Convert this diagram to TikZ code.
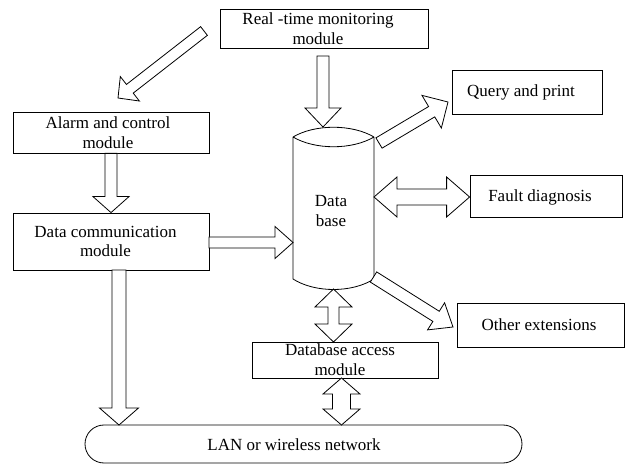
\documentclass[tikz,border=0pt]{standalone}
\usepackage{fontspec}
\setmainfont{Liberation Serif}
\usetikzlibrary{calc}

\tikzset{
  box/.style={draw, line width=0.8pt, inner sep=0pt},
  lbl/.style={align=center, inner sep=0pt, font=\fontsize{17}{19.5}\selectfont},
  blockline/.style={draw, line width=0.8pt, line join=miter, fill=white},
}

% hollow block arrow: tail, tip, shaft half-width, head half-width, head length
\newcommand\hollowarrow[5]{%
  \coordinate (hb) at ($(#2)!#5!(#1)$);
  \draw[blockline] ($(#1)!#3!90:(#2)$) -- ($(hb)!#3!-90:(#1)$) -- ($(hb)!#4!-90:(#1)$)
    -- (#2) -- ($(hb)!#4!90:(#1)$) -- ($(hb)!#3!90:(#1)$) -- ($(#1)!#3!-90:(#2)$) -- cycle;
}
% hollow double-headed block arrow: end, end, shaft half-width, head half-width, head length
\newcommand\hollowdarrow[5]{%
  \coordinate (ha) at ($(#1)!#5!(#2)$);
  \coordinate (hb) at ($(#2)!#5!(#1)$);
  \draw[blockline] (#1) -- ($(ha)!#4!90:(#2)$) -- ($(ha)!#3!90:(#2)$) -- ($(hb)!#3!-90:(#1)$)
    -- ($(hb)!#4!-90:(#1)$) -- (#2) -- ($(hb)!#4!90:(#1)$) -- ($(hb)!#3!90:(#1)$)
    -- ($(ha)!#3!-90:(#2)$) -- ($(ha)!#4!-90:(#2)$) -- cycle;
}

\begin{document}
\begin{tikzpicture}[x=1pt, y=-1pt]
\useasboundingbox (0,0) rectangle (625,465);

% module boxes
\node[box, minimum width=208pt, minimum height=39pt] (rt) at (324,28.5) {};
\node[lbl] (rt-t) at (318,28.5) {Real -time monitoring\\module};

\node[box, minimum width=196pt, minimum height=41pt] (al) at (111,132.5) {};
\node[lbl] (al-t) at (108,132.5) {Alarm and control\\module};

\node[box, minimum width=196pt, minimum height=57pt] (dc) at (111,241.5) {};
\node[lbl] (dc-t) at (105.5,241.5) {Data communication\\module};

\node[box, minimum width=150pt, minimum height=44pt] (qp) at (527,92) {};
\node[lbl] (qp-t) at (521,92) {Query and print};

\node[box, minimum width=152pt, minimum height=42pt] (fd) at (546,196) {};
\node[lbl] (fd-t) at (540,197) {Fault diagnosis};

\node[box, minimum width=167pt, minimum height=44pt] (oe) at (540.5,325) {};
\node[lbl] (oe-t) at (539,325) {Other extensions};

\node[box, minimum width=186pt, minimum height=36pt] (dba) at (345,360) {};
\node[lbl] (dba-t) at (340,359.5) {Database access\\module};

\node[box, rounded corners=19pt, minimum width=437pt, minimum height=38pt] (lan) at (303.5,444) {};
\node[lbl] (lan-t) at (294,445) {LAN or wireless network};

% database cylinder
\draw[line width=0.8pt]
  (293,137) .. controls (315,124) and (352,124) .. (374,137)
  (293,137) .. controls (315,150) and (352,150) .. (374,137)
  (293,137) -- (293,279) .. controls (315,293) and (352,293) .. (374,279) -- (374,137);
\node[lbl] (db) at (331,211) {Data\\base};

% connector end points
\coordinate (a1s) at (204,31);    \coordinate (a1e) at (118,98);
\coordinate (a2s) at (323,56);    \coordinate (a2e) at (323,127);
\coordinate (a3s) at (al.south);  \coordinate (a3e) at (dc.north);
\coordinate (a4s) at (209,242.5); \coordinate (a4e) at (293,242.5);
\coordinate (a5s) at (119,270);   \coordinate (a5e) at (119,425);
\coordinate (a6s) at (379,143);   \coordinate (a6e) at (448,102);
\coordinate (a7s) at (374,197);   \coordinate (a7e) at (fd.west |- a7s);
\coordinate (a8s) at (373.5,277); \coordinate (a8e) at (453,327);
\coordinate (a9s) at (333.5,289); \coordinate (a9e) at (333.5,342);
\coordinate (a10s) at (341.5,378);\coordinate (a10e) at (341.5,425);

% block arrows
\hollowarrow{a1s}{a1e}{5.5pt}{15.5pt}{15pt}
\hollowarrow{a2s}{a2e}{6pt}{18pt}{19pt}
\hollowarrow{a3s}{a3e}{6pt}{18pt}{16pt}
\hollowarrow{a4s}{a4e}{5.5pt}{16pt}{18pt}
\hollowarrow{a5s}{a5e}{7pt}{19.5pt}{17pt}
\hollowarrow{a6s}{a6e}{6pt}{19pt}{19pt}
\hollowdarrow{a7s}{a7e}{8pt}{20pt}{23pt}
\hollowarrow{a8s}{a8e}{6pt}{16pt}{20pt}
\hollowdarrow{a9s}{a9e}{5.5pt}{18.5pt}{18pt}
\hollowdarrow{a10s}{a10e}{9pt}{18.5pt}{16pt}
\end{tikzpicture}
\end{document}
